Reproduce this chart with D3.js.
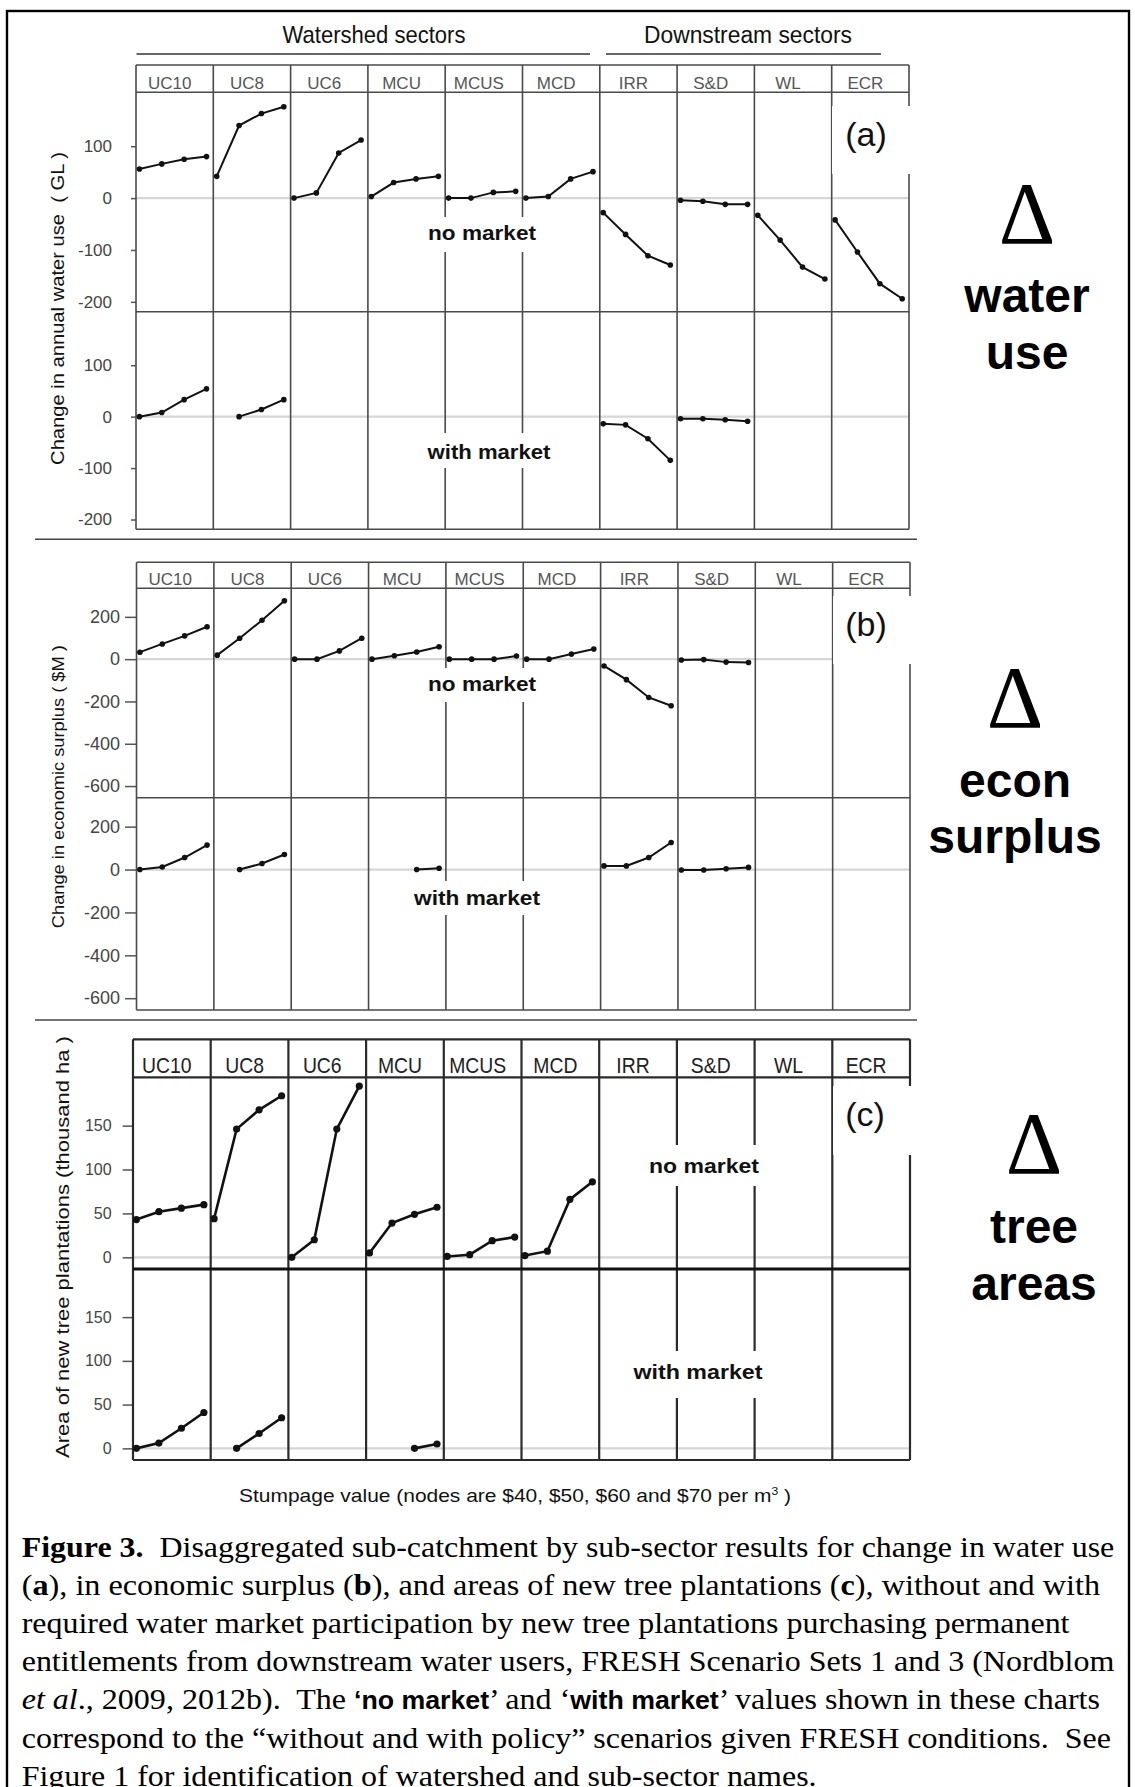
<!DOCTYPE html>
<html>
<head>
<meta charset="utf-8">
<script src="https://cdn.jsdelivr.net/npm/d3@7"></script>
<style>
  body { margin: 0; background: #fff; }
  svg text { white-space: pre; }
</style>
</head>
<body>
<svg id="fig" width="1135" height="1787"></svg>
<script>
"use strict";

const SECTORS = ["UC10", "UC8", "UC6", "MCU", "MCUS", "MCD", "IRR", "S&D", "WL", "ECR"];
const NODES = [40, 50, 60, 70];   // stumpage $/m3

// (a) change in annual water use (GL)
const waterNoMarket = [
  [56, 66, 75, 80],
  [42, 140, 163, 176],
  [0, 10, 87, 112],
  [3, 30, 37, 42],
  [0, 0, 11, 13],
  [0, 3, 37, 51],
  [-28, -70, -111, -129],
  [-4, -6, -12, -12],
  [-33, -81, -133, -156],
  [-42, -104, -165, -194]
];
const waterWithMarket = [
  [0, 8, 33, 54],
  [null, 0, 14, 33],
  null, null, null, null,
  [-14, -16, -43, -85],
  [-4, -4, -6, -9],
  null, null
];
const waterTicks = [100, 0, -100, -200];

// (b) change in economic surplus ($M)
const surplusNoMarket = [
  [33, 72, 110, 153],
  [19, 99, 184, 276],
  [0, 0, 39, 99],
  [0, 16, 34, 59],
  [0, 0, 0, 15],
  [0, 0, 24, 48],
  [-32, -97, -181, -220],
  [-4, -2, -14, -16],
  null, null
];
const surplusWithMarket = [
  [0, 12, 56, 114],
  [null, 0, 28, 70],
  null,
  [null, null, 0, 6],
  null, null,
  [17, 17, 56, 126],
  [-2, -2, 4, 10],
  null, null
];
const surplusTicks = [200, 0, -200, -400, -600];

// (c) area of new tree plantations (thousand ha)
const areaNoMarket = [
  [43, 52, 56, 60],
  [44, 146, 168, 184],
  [0, 20, 146, 195],
  [5, 39, 49, 57],
  [1, 3, 19, 23],
  [2, 7, 66, 86],
  null, null, null, null
];
const areaWithMarket = [
  [0, 6, 23, 41],
  [null, 0, 17, 35],
  null,
  [null, null, 0, 5],
  null, null, null, null, null, null
];
const areaTicks = [150, 100, 50, 0];

const captionLines = [
  [["b", "Figure 3."], ["", "  Disaggregated sub-catchment by sub-sector results for change in water use"]],
  [["", "("], ["b", "a"], ["", "), in economic surplus ("], ["b", "b"], ["", "), and areas of new tree plantations ("], ["b", "c"], ["", "), without and with"]],
  [["", "required water market participation by new tree plantations purchasing permanent"]],
  [["", "entitlements from downstream water users, FRESH Scenario Sets 1 and 3 (Nordblom"]],
  [["i", "et al"], ["", "., 2009, 2012b).  The "], ["s", "\u2018no market"], ["", "\u2019 and \u2018"], ["s", "with market"], ["", "\u2019 values shown in these charts"]],
  [["", "correspond to the \u201cwithout and with policy\u201d scenarios given FRESH conditions.  See"]],
  [["", "Figure 1 for identification of watershed and sub-sector names."]]
];

const SANS = "'Liberation Sans'";
const SERIF = "'Liberation Serif'";

const svg = d3.select("#fig");

// squeeze/stretch a text horizontally around x0 so it spans `target` px
function fitX(sel, x0, target) {
  const w = sel.node().getComputedTextLength();
  const k = target / w;
  sel.attr("transform", `translate(${x0},0) scale(${k},1) translate(${-x0},0)`);
}

function yLabel(text, x, cy, size, length) {
  const t = svg.append("text")
      .attr("text-anchor", "middle")
      .style("font-family", SANS)
      .style("font-size", size + "px")
      .style("fill", "#111")
      .text(text);
  const k = length / t.node().getComputedTextLength();
  t.attr("transform", `translate(${x},${cy}) rotate(-90) scale(${k},1)`);
}

const PANELS = [
  { id: "(a)", top: 65, headBottom: 92.3, divider: 311.7, bottom: 529.3, left: 136, right: 909,
    domain: [-219, 204], ticks: waterTicks, tickLen: 5, tickPad: 19, tickSize: 17,
    noMarket: waterNoMarket, withMarket: waterWithMarket,
    headSize: 17, headK: 1, headBase: 89, heavy: false,
    tag: { x: 866, y: 146, box: [832, 106, 82, 68] },
    noLbl: { x: 482, y: 240, w: 108, box: [424, 217, 118, 35] },
    withLbl: { x: 489, y: 459, w: 123, box: [424, 433, 130, 35] },
    big: { x: 1027, delta: 243, words: ["water", "use"], base: [311.7, 369.3] } },
  { id: "(b)", top: 562.3, headBottom: 588.3, divider: 797.7, bottom: 1010, left: 136.5, right: 910,
    domain: [-655, 335], ticks: surplusTicks, tickLen: 11.5, tickPad: 5, tickSize: 18,
    noMarket: surplusNoMarket, withMarket: surplusWithMarket,
    headSize: 17, headK: 1, headBase: 585, heavy: false,
    tag: { x: 866, y: 636, box: [833, 596, 81, 68] },
    noLbl: { x: 482, y: 691, w: 108, box: [424, 668, 118, 34] },
    withLbl: { x: 477, y: 905, w: 126, box: [410, 881, 134, 34] },
    big: { x: 1015, delta: 726.7, words: ["econ", "surplus"], base: [796.7, 853] } },
  { id: "(c)", top: 1039.3, headBottom: 1077.3, divider: 1269, bottom: 1460, left: 133, right: 910,
    domain: [-13.3, 205], ticks: areaTicks, tickLen: 10.4, tickPad: 11, tickSize: 16,
    noMarket: areaNoMarket, withMarket: areaWithMarket,
    headSize: 22, headK: 0.88, headBase: 1073, heavy: true,
    tag: { x: 865, y: 1126, box: [833, 1086, 81, 69] },
    noLbl: { x: 704, y: 1173, w: 110, box: [644, 1145, 121, 41] },
    withLbl: { x: 698, y: 1379, w: 129, box: [628, 1351, 140, 47] },
    big: { x: 1034, delta: 1173, words: ["tree", "areas"], base: [1242.7, 1300] } }
];

function drawPanel(p) {
  const g = svg.append("g").attr("class", "panel");
  const col = d3.scaleBand().domain(SECTORS).range([p.left, p.right]);
  const bw = col.bandwidth();
  const xIn = d3.scaleLinear().domain([40, 70]).range([3.4, bw - 6.8]);
  const frame = p.heavy ? "#2a2a2a" : "#4a4a4a";
  const frameW = p.heavy ? 2.2 : 1.6;

  const halves = [
    { y0: p.headBottom, y1: p.divider, data: p.noMarket },
    { y0: p.divider, y1: p.bottom, data: p.withMarket }
  ];

  halves.forEach(h => {
    h.y = d3.scaleLinear().domain(p.domain).range([h.y1, h.y0]);

    // zero reference line
    g.append("line")
        .attr("x1", p.left).attr("x2", p.right)
        .attr("y1", h.y(0)).attr("y2", h.y(0))
        .style("stroke", "#d6d6d6")
        .style("stroke-width", 2.2);

    const axis = d3.axisLeft(h.y)
        .tickValues(p.ticks)
        .tickSize(p.tickLen)
        .tickPadding(p.tickPad)
        .tickFormat(d => String(d));
    const ag = g.append("g")
        .attr("transform", `translate(${p.left},0)`)
        .call(axis);
    ag.select(".domain").remove();
    ag.selectAll(".tick line").style("stroke", "#555").style("stroke-width", 1.5);
    ag.selectAll(".tick text")
        .style("font-family", SANS)
        .style("font-size", p.tickSize + "px")
        .style("fill", "#444");
  });

  // header row
  g.selectAll(".head")
    .data(SECTORS)
    .enter()
    .append("text")
      .attr("class", "head")
      .attr("text-anchor", "middle")
      .attr("x", d => col(d) + bw / 2 - 5)
      .attr("y", p.headBase)
      .attr("transform", d => {
        const cx = col(d) + bw / 2 - 5;
        return `translate(${cx},0) scale(${p.headK},1) translate(${-cx},0)`;
      })
      .style("font-family", SANS)
      .style("font-size", p.headSize + "px")
      .style("fill", p.heavy ? "#222" : "#555")
      .text(d => d);

  // grid
  const vx = SECTORS.map(s => col(s)).concat([p.right]);
  g.selectAll(".vline")
    .data(vx)
    .enter()
    .append("line")
      .attr("x1", d => d).attr("x2", d => d)
      .attr("y1", p.top).attr("y2", p.bottom)
      .style("stroke", frame)
      .style("stroke-width", frameW);
  [p.top, p.headBottom, p.bottom].forEach(yy => {
    g.append("line")
        .attr("x1", p.left).attr("x2", p.right)
        .attr("y1", yy).attr("y2", yy)
        .style("stroke", frame)
        .style("stroke-width", frameW);
  });
  g.append("line")
      .attr("x1", p.left).attr("x2", p.right)
      .attr("y1", p.divider).attr("y2", p.divider)
      .style("stroke", p.heavy ? "#111" : frame)
      .style("stroke-width", p.heavy ? 3 : frameW);

  // white patches behind labels
  [p.tag.box, p.noLbl.box, p.withLbl.box].forEach(b => {
    g.append("rect")
        .attr("x", b[0]).attr("y", b[1])
        .attr("width", b[2]).attr("height", b[3])
        .style("fill", "#fff");
  });

  // series
  const line = d3.line();
  halves.forEach(h => {
    SECTORS.forEach((s, i) => {
      const vals = h.data[i];
      if (!vals) return;
      const pts = NODES.map((n, j) => [col(s) + xIn(n), vals[j]])
        .filter(d => d[1] !== null)
        .map(d => [d[0], h.y(d[1])]);
      g.append("path")
          .attr("d", line(pts))
          .style("fill", "none")
          .style("stroke", "#111")
          .style("stroke-width", p.heavy ? 2.6 : 2);
      g.selectAll(null)
        .data(pts)
        .enter()
        .append("circle")
          .attr("cx", d => d[0])
          .attr("cy", d => d[1])
          .attr("r", p.heavy ? 3.6 : 2.8)
          .style("fill", "#111");
    });
  });

  // panel tag
  g.append("text")
      .attr("x", p.tag.x).attr("y", p.tag.y)
      .attr("text-anchor", "middle")
      .style("font-family", SANS)
      .style("font-size", "34px")
      .style("fill", "#111")
      .text(p.id);

  [["no market", p.noLbl], ["with market", p.withLbl]].forEach(([txt, l]) => {
    const t = g.append("text")
        .attr("x", l.x).attr("y", l.y)
        .attr("text-anchor", "middle")
        .style("font-family", SANS)
        .style("font-weight", "bold")
        .style("font-size", "20px")
        .style("fill", "#111")
        .text(txt);
    fitX(t, l.x, l.w);
  });

  // big labels on the right
  svg.append("text")
      .attr("x", p.big.x).attr("y", p.big.delta)
      .attr("text-anchor", "middle")
      .style("font-family", SERIF)
      .style("font-size", "88px")
      .style("fill", "#000")
      .text("\u0394");
  p.big.words.forEach((w, i) => {
    svg.append("text")
        .attr("x", p.big.x).attr("y", p.big.base[i])
        .attr("text-anchor", "middle")
        .style("font-family", SANS)
        .style("font-weight", "bold")
        .style("font-size", "48px")
        .style("fill", "#000")
        .text(w);
  });
}

// outer frame
svg.append("rect")
    .attr("x", 7).attr("y", 11)
    .attr("width", 1122).attr("height", 1800)
    .style("fill", "none")
    .style("stroke", "#000")
    .style("stroke-width", 2.4);

// group headings
[["Watershed sectors", 374, 183, 136.5, 590], ["Downstream sectors", 748, 208, 606, 881]].forEach(([txt, cx, w, x1, x2]) => {
  const t = svg.append("text")
      .attr("x", cx).attr("y", 43)
      .attr("text-anchor", "middle")
      .style("font-family", SANS)
      .style("font-size", "24px")
      .style("fill", "#111")
      .text(txt);
  fitX(t, cx, w);
  svg.append("line")
      .attr("x1", x1).attr("x2", x2)
      .attr("y1", 54).attr("y2", 54)
      .style("stroke", "#333")
      .style("stroke-width", 1.5);
});

PANELS.forEach(drawPanel);

// separators between panels
[539.3, 1020].forEach(yy => {
  svg.append("line")
      .attr("x1", 35).attr("x2", 917)
      .attr("y1", yy).attr("y2", yy)
      .style("stroke", "#444")
      .style("stroke-width", 1.6);
});

yLabel("Change in annual water use  ( GL )", 64, 308.5, 19, 313);
yLabel("Change in economic surplus ( $M )", 63.5, 786.7, 16, 283);
yLabel("Area of new tree plantations (thousand ha )", 69, 1247, 19, 422);

// x axis caption
const stump = svg.append("text")
    .attr("x", 515).attr("y", 1501.7)
    .attr("text-anchor", "middle")
    .style("font-family", SANS)
    .style("font-size", "19px")
    .style("fill", "#111");
stump.append("tspan").text("Stumpage value (nodes are $40, $50, $60 and $70 per m");
stump.append("tspan").attr("dy", -7).style("font-size", "11px").text("3");
stump.append("tspan").attr("dy", 7).text(" )");
fitX(stump, 515, 552);

// figure caption
const capEnds = [1115, 1100.6, 1070, 1115, 1100.6, 1111.5, 817];
captionLines.forEach((parts, i) => {
  const t = svg.append("text")
      .attr("x", 21.7)
      .attr("y", 1556.7 + i * 38.2)
      .style("font-family", SERIF)
      .style("font-size", "30px")
      .style("fill", "#000");
  parts.forEach(([kind, s]) => {
    const ts = t.append("tspan").text(s);
    if (kind === "b") ts.style("font-weight", "bold");
    if (kind === "i") ts.style("font-style", "italic");
    if (kind === "s") ts.style("font-family", SANS).style("font-weight", "bold").style("font-size", "25px");
  });
  fitX(t, 21.7, capEnds[i] - 21.7);
});
</script>
</body>
</html>
